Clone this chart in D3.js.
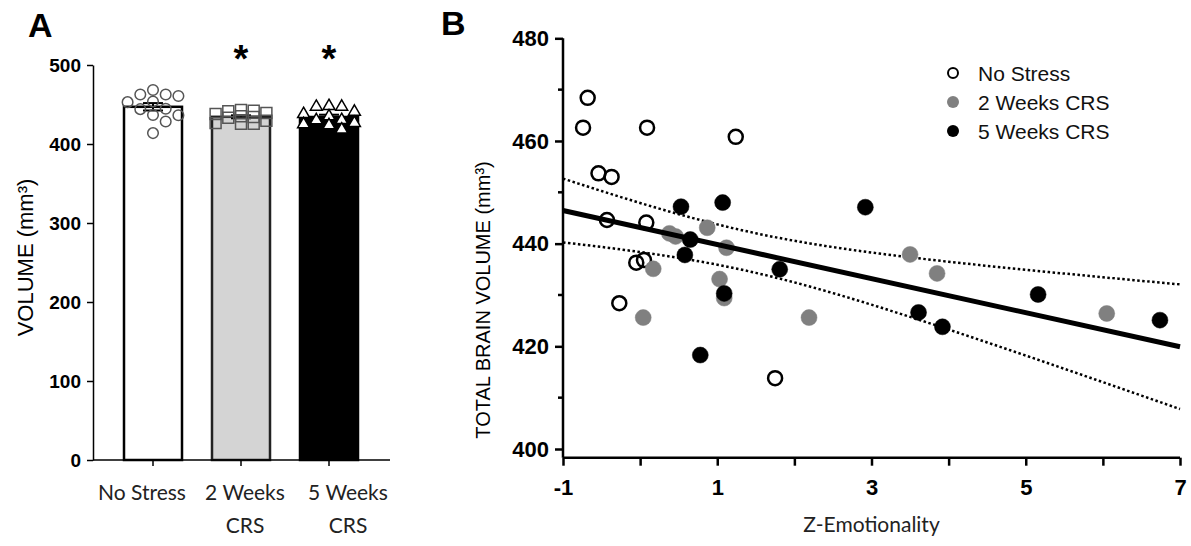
<!DOCTYPE html>
<html>
<head>
<meta charset="utf-8">
<script src="https://cdn.jsdelivr.net/npm/d3@7"></script>
<style>
	body { margin: 0; background: #fff; }
	svg { display: block; }
	.tick text { font-family: "Liberation Sans", Arial, sans-serif; font-weight: bold; fill: #000; }
</style>
</head>
<body>
<div id="chart"></div>
<script>
// groups + per-animal data (same animals in both panels)
var groups = ["No Stress", "2 Weeks CRS", "5 Weeks CRS"];
var groupLines = [["No Stress"], ["2 Weeks", "CRS"], ["5 Weeks", "CRS"]];

var noStressZ   = [-0.68, -0.74, 0.09, 1.24, -0.54, -0.37, -0.43, 0.08, -0.05, 0.05, -0.27, 1.75];
var noStressVol = [468.4, 462.6, 462.6, 460.8, 453.7, 453.0, 444.6, 444.1, 436.3, 436.8, 428.4, 413.8];
var twoWeeksZ   = [0.38, 0.46, 0.87, 1.12, 0.17, 1.03, 1.09, 0.04, 2.19, 3.50, 3.85, 6.05];
var twoWeeksVol = [442.0, 441.4, 443.1, 439.2, 435.1, 433.1, 429.4, 425.6, 425.6, 437.9, 434.2, 426.4];
var fiveWeeksZ   = [0.53, 1.07, 0.65, 0.58, 1.09, 0.78, 1.81, 2.92, 3.61, 3.92, 5.16, 6.74];
var fiveWeeksVol = [447.2, 448.0, 440.8, 437.8, 430.3, 418.3, 435.0, 447.1, 426.6, 423.8, 430.1, 425.1];

var volTicksA = [0, 100, 200, 300, 400, 500];
var volTicksB = [400, 420, 440, 460, 480];
var volMinorB = [410, 430, 450, 470];
var zTicks = [-1, 0, 1, 2, 3, 4, 5, 6, 7];
var zLabels = [-1, 1, 3, 5, 7];
var starred = ["2 Weeks CRS", "5 Weeks CRS"];

var W = 1191, H = 546;
var svg = d3.select("#chart").append("svg")
	.attr("width", W)
	.attr("height", H);

var groupVols = [noStressVol, twoWeeksVol, fiveWeeksVol];
var groupZ = [noStressZ, twoWeeksZ, fiveWeeksZ];

// ---------------- Panel A ----------------
var axA = 93, bottomA = 460;
var yA = d3.scaleLinear().domain([0, 500]).range([bottomA, 65]);
var xA = d3.scalePoint().domain(groups).range([153, 329]);
var barW = 58;

var barFill = ["#ffffff", "#d4d4d4", "#000000"];
var barStroke = ["#000", "#222", "#000"];

var stats = groupVols.map(function (v) {
	var m = d3.mean(v);
	var sem = d3.deviation(v) / Math.sqrt(v.length);
	return { mean: m, sem: sem };
});

var gA = svg.append("g");

gA.selectAll(".bar")
	.data(groups)
	.enter().append("rect")
	.attr("class", "bar")
	.attr("x", function (d) { return xA(d) - barW / 2; })
	.attr("y", function (d, i) { return yA(stats[i].mean); })
	.attr("width", barW)
	.attr("height", function (d, i) { return bottomA - yA(stats[i].mean); })
	.attr("fill", function (d, i) { return barFill[i]; })
	.attr("stroke", function (d, i) { return barStroke[i]; })
	.attr("stroke-width", 2.5);

// error bars (mean +/- SEM)
groups.forEach(function (g, i) {
	var cx = xA(g), s = stats[i];
	gA.append("line")
		.attr("x1", cx).attr("x2", cx)
		.attr("y1", yA(s.mean - s.sem)).attr("y2", yA(s.mean + s.sem))
		.attr("stroke", "#000").attr("stroke-width", 2);
	[s.mean - s.sem, s.mean + s.sem].forEach(function (v) {
		gA.append("line")
			.attr("x1", cx - 10).attr("x2", cx + 10)
			.attr("y1", yA(v)).attr("y2", yA(v))
			.attr("stroke", "#000").attr("stroke-width", 2);
	});
});

// beeswarm limited to +/-2 columns; when no free slot, take the least crowded one
function swarm(vals, r) {
	var order = vals.map(function (v, i) { return i; })
		.sort(function (a, b) { return vals[b] - vals[a]; });
	var placed = [];
	var step = 2 * r + 1.5;
	var cand = [0, 1, -1, 2, -2];
	order.forEach(function (i) {
		var y = yA(vals[i]);
		var best = null, bestGap = -1;
		for (var k = 0; k < cand.length; k++) {
			var x = cand[k] * step;
			var gap = d3.min(placed, function (p) { return Math.hypot(p.x - x, p.y - y); });
			if (gap === undefined) gap = Infinity;
			if (gap >= 2 * r) { best = x; break; }
			if (gap > bestGap) { bestGap = gap; best = x; }
		}
		placed.push({ x: best, y: y });
	});
	return placed;
}

var symbols = [d3.symbolCircle, d3.symbolSquare, d3.symbolTriangle];
var symSize = [88, 120, 62];
var symFill = ["none", "none", "#fff"];
var symStroke = ["#555", "#555", "#000"];

groups.forEach(function (g, i) {
	var pts = swarm(groupVols[i], 5.6);
	gA.selectAll(".pt" + i)
		.data(pts)
		.enter().append("path")
		.attr("d", d3.symbol().type(symbols[i]).size(symSize[i]))
		.attr("transform", function (p) {
			return "translate(" + (xA(g) + p.x) + "," + p.y + ")";
		})
		.attr("fill", symFill[i])
		.attr("stroke", symStroke[i])
		.attr("stroke-width", 1.5);
});

// y axis A
var yAxisA = gA.append("g")
	.attr("transform", "translate(" + axA + ",0)")
	.call(d3.axisLeft(yA).tickValues(volTicksA).tickSize(6).tickPadding(6).tickSizeOuter(0));
yAxisA.select(".domain").attr("stroke-width", 1.5);
yAxisA.selectAll(".tick line").attr("stroke-width", 1.5);
yAxisA.selectAll(".tick text").style("font-size", "19px");

// x axis A
gA.append("line")
	.attr("x1", axA).attr("x2", 390)
	.attr("y1", bottomA).attr("y2", bottomA)
	.attr("stroke", "#000").attr("stroke-width", 1.5);
gA.selectAll(".xtickA")
	.data(groups)
	.enter().append("line")
	.attr("x1", function (d) { return xA(d); })
	.attr("x2", function (d) { return xA(d); })
	.attr("y1", bottomA).attr("y2", bottomA + 6)
	.attr("stroke", "#000").attr("stroke-width", 1.5);

var labelShift = [-11, 4, 19];
groups.forEach(function (g, i) {
	var t = gA.append("text")
		.attr("x", xA(g) + labelShift[i])
		.attr("y", 500)
		.attr("text-anchor", "middle")
		.style("font-family", "Lato, 'Open Sans', sans-serif")
		.style("font-size", "21px")
		.attr("fill", "#222");
	groupLines[i].forEach(function (line, j) {
		t.append("tspan")
			.attr("x", xA(g) + labelShift[i])
			.attr("dy", j === 0 ? 0 : 33)
			.text(line);
	});
});

gA.append("text")
	.attr("transform", "translate(33," + ((65 + 460) / 2 - 5) + ") rotate(-90)")
	.attr("text-anchor", "middle")
	.style("font-family", "'Liberation Sans', Arial, sans-serif")
	.style("font-size", "22px")
	.text("VOLUME (mm³)");

gA.selectAll(".star")
	.data(starred)
	.enter().append("text")
	.attr("x", function (d) { return xA(d); })
	.attr("y", 72)
	.attr("text-anchor", "middle")
	.style("font-family", "'Liberation Sans', Arial, sans-serif")
	.style("font-weight", "bold")
	.style("font-size", "38px")
	.text("*");

svg.append("text")
	.attr("x", 28).attr("y", 37)
	.style("font-family", "'Liberation Sans', Arial, sans-serif")
	.style("font-weight", "bold")
	.style("font-size", "34px")
	.text("A");

// ---------------- Panel B ----------------
var axB = 563, bottomB = 457.7;
var xB = d3.scaleLinear().domain([-1, 7]).range([axB, 1180]);
var yB = d3.scaleLinear().domain([400, 480]).range([449, 38.3]);

var gB = svg.append("g");

// linear fit + 95% confidence band over all animals
var allZ = [].concat(noStressZ, twoWeeksZ, fiveWeeksZ);
var allV = [].concat(noStressVol, twoWeeksVol, fiveWeeksVol);
var n = allZ.length;
var mz = d3.mean(allZ), mv = d3.mean(allV);
var sxx = d3.sum(allZ, function (z) { return (z - mz) * (z - mz); });
var sxy = d3.sum(allZ, function (z, i) { return (z - mz) * (allV[i] - mv); });
var slope = sxy / sxx, icpt = mv - slope * mz;
var sse = d3.sum(allZ, function (z, i) { var r = allV[i] - (icpt + slope * z); return r * r; });
var se = Math.sqrt(sse / (n - 2));
var tcrit = 2.032;
var band = d3.range(-1, 7.001, 0.1).map(function (z) {
	var fit = icpt + slope * z;
	var hw = tcrit * se * Math.sqrt(1 / n + (z - mz) * (z - mz) / sxx);
	return { z: z, fit: fit, lo: fit - hw, hi: fit + hw };
});

["lo", "hi"].forEach(function (k) {
	gB.append("path")
		.datum(band)
		.attr("fill", "none")
		.attr("stroke", "#000")
		.attr("stroke-width", 2.5)
		.attr("stroke-dasharray", "2.5,2.5")
		.attr("d", d3.line()
			.x(function (d) { return xB(d.z); })
			.y(function (d) { return yB(d[k]); }));
});

var ptFill = ["#fff", "#808080", "#000"];
var ptStroke = ["#000", "#808080", "#000"];
groups.forEach(function (g, i) {
	gB.selectAll(".dot" + i)
		.data(groupZ[i])
		.enter().append("circle")
		.attr("cx", function (z) { return xB(z); })
		.attr("cy", function (z, j) { return yB(groupVols[i][j]); })
		.attr("r", i === 0 ? 7 : 8)
		.attr("fill", ptFill[i])
		.attr("fill-opacity", i === 0 ? 0 : 1)
		.attr("stroke", ptStroke[i])
		.attr("stroke-width", i === 0 ? 2.5 : 0.5);
});

gB.append("path")
	.datum([band[0], band[band.length - 1]])
	.attr("fill", "none")
	.attr("stroke", "#000")
	.attr("stroke-width", 5)
	.attr("d", d3.line()
		.x(function (d) { return xB(d.z); })
		.y(function (d) { return yB(d.fit); }));

// axes B
gB.append("line")
	.attr("x1", axB).attr("x2", axB)
	.attr("y1", yB(480)).attr("y2", bottomB)
	.attr("stroke", "#000").attr("stroke-width", 2.5);
var yAxisB = gB.append("g")
	.attr("transform", "translate(" + axB + ",0)")
	.call(d3.axisLeft(yB).tickValues(volTicksB).tickSize(8).tickPadding(6));
yAxisB.select(".domain").remove();
yAxisB.selectAll(".tick line").attr("stroke-width", 2.5);
yAxisB.selectAll(".tick text").style("font-size", "22px");
gB.selectAll(".minorY")
	.data(volMinorB)
	.enter().append("line")
	.attr("x1", axB - 5).attr("x2", axB)
	.attr("y1", function (d) { return yB(d); })
	.attr("y2", function (d) { return yB(d); })
	.attr("stroke", "#000").attr("stroke-width", 2.5);

gB.append("line")
	.attr("x1", axB).attr("x2", xB(7))
	.attr("y1", bottomB).attr("y2", bottomB)
	.attr("stroke", "#000").attr("stroke-width", 2.5);
var xAxisB = gB.append("g")
	.attr("transform", "translate(0," + bottomB + ")")
	.call(d3.axisBottom(xB).tickValues(zTicks).tickSize(8).tickPadding(14)
		.tickFormat(function (d) { return zLabels.indexOf(d) >= 0 ? String(d) : ""; }));
xAxisB.select(".domain").remove();
xAxisB.selectAll(".tick line").attr("stroke-width", 2.5);
xAxisB.selectAll(".tick text").style("font-size", "22px");

gB.append("text")
	.attr("x", (axB + 1180) / 2)
	.attr("y", 532)
	.attr("text-anchor", "middle")
	.style("font-family", "Lato, 'Open Sans', sans-serif")
	.style("font-size", "21px")
	.attr("fill", "#222")
	.text("Z-Emotionality");

gB.append("text")
	.attr("transform", "translate(490,300) rotate(-90)")
	.attr("text-anchor", "middle")
	.style("font-family", "'Liberation Sans', Arial, sans-serif")
	.style("font-size", "20px")
	.text("TOTAL BRAIN VOLUME (mm³)");

svg.append("text")
	.attr("x", 441).attr("y", 35)
	.style("font-family", "'Liberation Sans', Arial, sans-serif")
	.style("font-weight", "bold")
	.style("font-size", "34px")
	.text("B");

// legend
var leg = gB.selectAll(".leg")
	.data(groups)
	.enter().append("g")
	.attr("transform", function (d, i) { return "translate(953," + (73 + i * 29) + ")"; });
leg.append("circle")
	.attr("r", function (d, i) { return i === 0 ? 5 : 6; })
	.attr("fill", function (d, i) { return i === 0 ? "none" : ptFill[i]; })
	.attr("stroke", function (d, i) { return i === 0 ? "#000" : "none"; })
	.attr("stroke-width", 2);
leg.append("text")
	.attr("x", 25)
	.attr("y", 8)
	.style("font-family", "'Liberation Sans', Arial, sans-serif")
	.style("font-size", "21px")
	.attr("fill", "#111")
	.text(function (d) { return d; });
</script>
</body>
</html>
